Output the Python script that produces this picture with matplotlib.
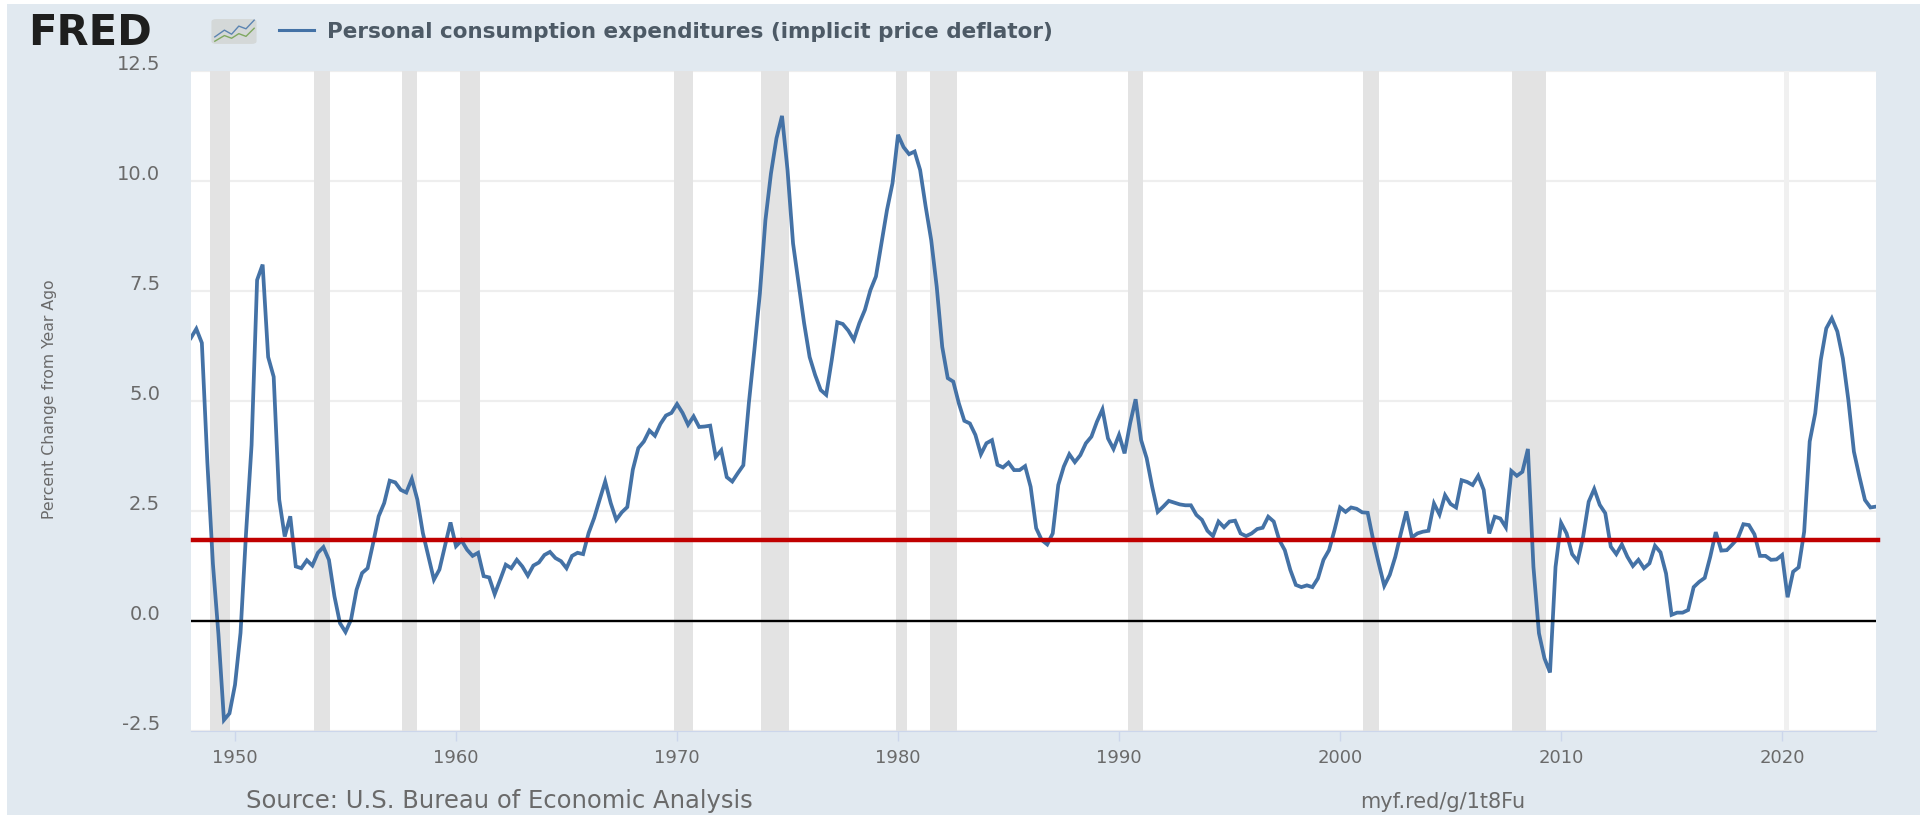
import numpy as np
import matplotlib
matplotlib.use("Agg")
import matplotlib.pyplot as plt
from matplotlib.patches import Rectangle, FancyBboxPatch
from matplotlib.transforms import ScaledTranslation

# quarterly values, percent change from year ago
v1948 = [6.43, 6.64, 6.32, 3.6, 1.3, -0.3, -2.25, -2.1, -1.45, -0.27, 2.0, 4.0, 7.75, 8.1, 6.0, 5.55]
v1952 = [2.76, 1.92, 2.38, 1.24, 1.2, 1.38, 1.26, 1.55, 1.68, 1.39, 0.56, -0.05, -0.25, 0.03, 0.71, 1.09,
         1.2, 1.77, 2.38, 2.68, 3.19, 3.15, 2.98, 2.92, 3.23, 2.76, 2.0, 1.47, 0.94, 1.17, 1.7, 2.24]
v1960 = [1.7, 1.83, 1.62, 1.48, 1.55, 1.02, 0.99, 0.61, 0.94, 1.28, 1.2, 1.39, 1.24, 1.03, 1.26, 1.33,
         1.5, 1.57, 1.43, 1.36, 1.2, 1.48, 1.55, 1.52, 2.0, 2.34, 2.76, 3.17, 2.68, 2.3, 2.47, 2.59,
         3.44, 3.93, 4.08, 4.33, 4.21, 4.48, 4.67, 4.73]
v1970 = [4.93, 4.73, 4.46, 4.65, 4.41, 4.42, 4.44, 3.73, 3.88, 3.27, 3.17, 3.36, 3.54, 4.95, 6.16, 7.45,
         9.11, 10.17, 10.97, 11.48, 10.25, 8.58, 7.67, 6.77, 6.0, 5.59, 5.25, 5.14, 5.93, 6.79, 6.75, 6.6,
         6.39, 6.77, 7.07, 7.52, 7.83, 8.58, 9.34, 9.95]
v1980 = [11.05, 10.77, 10.61, 10.67, 10.25, 9.42, 8.66, 7.6, 6.23, 5.52, 5.44, 4.95, 4.55, 4.49, 4.23, 3.79,
         4.04, 4.11, 3.55, 3.49, 3.6, 3.43, 3.43, 3.52, 3.05, 2.11, 1.84, 1.74, 1.99, 3.09, 3.51, 3.79,
         3.61, 3.77, 4.04, 4.19, 4.53, 4.81, 4.15, 3.91]
v1990 = [4.23, 3.81, 4.49, 5.04, 4.11, 3.7, 3.05, 2.48, 2.6, 2.73, 2.69, 2.65, 2.63, 2.63, 2.41, 2.3,
         2.05, 1.93, 2.26, 2.13, 2.26, 2.28, 1.99, 1.93, 1.99, 2.09, 2.12, 2.37, 2.26, 1.84, 1.61, 1.16,
         0.82, 0.77, 0.81, 0.77, 0.97, 1.39, 1.61, 2.07]
v2000 = [2.58, 2.48, 2.58, 2.55, 2.47, 2.46, 1.84, 1.31, 0.8, 1.05, 1.46, 1.99, 2.49, 1.9, 1.99, 2.03,
         2.05, 2.67, 2.42, 2.86, 2.66, 2.58, 3.2, 3.16, 3.09, 3.3, 2.98, 1.99, 2.37, 2.33, 2.13, 3.41,
         3.3, 3.39, 3.91, 1.23, -0.28, -0.85, -1.17, 1.23]
v2010 = [2.23, 1.99, 1.52, 1.36, 1.92, 2.71, 3.0, 2.64, 2.45, 1.69, 1.52, 1.74, 1.46, 1.25, 1.39, 1.2,
         1.31, 1.71, 1.56, 1.08, 0.14, 0.19, 0.19, 0.25, 0.77, 0.89, 0.98, 1.46, 2.02, 1.6, 1.61, 1.74,
         1.88, 2.2, 2.18, 1.97, 1.48, 1.48, 1.39, 1.4]
v2020 = [1.5, 0.54, 1.12, 1.22, 2.03, 4.08, 4.72, 5.93, 6.65, 6.88, 6.58, 5.97, 5.02, 3.85, 3.28, 2.75, 2.58, 2.6]
values = v1948 + v1952 + v1960 + v1970 + v1980 + v1990 + v2000 + v2010 + v2020
dates = 1948 + np.arange(len(values)) / 4

rec_start = [1948.87, 1953.58, 1957.55, 1960.18, 1969.85, 1973.79, 1979.91, 1981.43, 1990.39, 2001.06, 2007.8, 2020.08]
rec_end = [1949.76, 1954.30, 1958.24, 1961.08, 1970.72, 1975.07, 1980.42, 1982.67, 1991.07, 2001.74, 2009.33, 2020.30]
rec_color = ["#E3E3E3"] * 11 + ["#F0F0F0"]

yticks = [-2.5, 0, 2.5, 5, 7.5, 10, 12.5]
ylabels = ["-2.5", "0.0", "2.5", "5.0", "7.5", "10.0", "12.5"]
xticks = [1950, 1960, 1970, 1980, 1990, 2000, 2010, 2020]
red_level = 1.85

W, H = 1927, 815
fig = plt.figure(figsize=(W / 100, H / 100), dpi=100, facecolor="white")
fig.patches.append(Rectangle((7 / W, 0), 1913 / W, 811 / H, transform=fig.transFigure,
                             facecolor="#E1E9F0", edgecolor="none", zorder=-5))

ax = fig.add_axes([190.8 / W, 1 - 731 / H, (1876 - 190.8) / W, (731 - 71) / H])
ax.set_facecolor("white")
for s in ax.spines.values():
    s.set_visible(False)
ax.spines["bottom"].set_visible(True)
ax.spines["bottom"].set_color("#CCD6EB")

ax.grid(True, axis="y", color="#EEEEEE", lw=1.6, zorder=1)
ax.set_axisbelow(True)
for a, b, c in zip(rec_start, rec_end, rec_color):
    ax.axvspan(a, b, color=c, lw=0, zorder=2)
ax.plot(dates, values, color="#4472A6", lw=2.7, zorder=3, solid_joinstyle="miter")
ax.axhline(0, color="black", lw=1.7, zorder=4)
ax.plot([1948.1, 2024.35], [red_level, red_level], color="#C00000", lw=3.2, zorder=5, clip_on=False)

ax.set_xlim(1948, 2024.25)
ax.set_ylim(-2.5, 12.5)
ax.set_xticks(xticks)
ax.set_yticks(yticks)
ax.set_yticklabels(ylabels)
ax.tick_params(axis="x", length=7, width=1, color="#CCD6EB", labelsize=13, labelcolor="#6A6A6A", pad=6)
ax.tick_params(axis="y", length=0, labelsize=14, labelcolor="#6A6A6A", pad=22)
up = ScaledTranslation(0, 8 / 72 * 0.72, fig.dpi_scale_trans)
for t in ax.get_yticklabels():
    t.set_transform(t.get_transform() + up)

fig.text(50 / W, 1 - 399 / H, "Percent Change from Year Ago", rotation=90, ha="center", va="center",
         color="#6A6A6A", fontsize=11.3)

# header
fig.text(28 / W, 1 - 45 / H, "FRED", fontsize=30, fontweight="bold", color="#1E1E1E", ha="left", va="baseline")
fig.add_artist(plt.Line2D([279 / W, 314 / W], [1 - 30 / H, 1 - 30 / H], color="#4472A6", lw=2.2))
fig.text(327 / W, 1 - 32 / H, "Personal consumption expenditures (implicit price deflator)",
         fontsize=15.5, fontweight="bold", color="#4D5A66", ha="left", va="center")

# little chart icon next to the logo
icon = fig.add_axes([210 / W, 1 - 45 / H, 48 / W, 27 / H])
icon.axis("off")
icon.set_xlim(0, 1)
icon.set_ylim(0, 1)
icon.add_patch(FancyBboxPatch((0.03, 0.04), 0.94, 0.92, boxstyle="round,pad=0,rounding_size=0.1",
                              facecolor="#D4D8D8", edgecolor="none"))
icon.plot([0.1, 0.3, 0.45, 0.6, 0.75, 0.92], [0.3, 0.55, 0.4, 0.7, 0.6, 0.92], color="#5B84B1", lw=1)
icon.plot([0.1, 0.3, 0.45, 0.6, 0.75, 0.92], [0.14, 0.35, 0.25, 0.42, 0.32, 0.62], color="#7FA860", lw=1)

# footer
fig.text(246 / W, 1 - 801 / H, "Source: U.S. Bureau of Economic Analysis", fontsize=17.5,
         color="#6A6A6A", ha="left", va="center")
fig.text(1360 / W, 1 - 802 / H, "myf.red/g/1t8Fu", fontsize=15, color="#6A6A6A", ha="left", va="center")

plt.savefig("out.png", dpi=100, facecolor="white")
